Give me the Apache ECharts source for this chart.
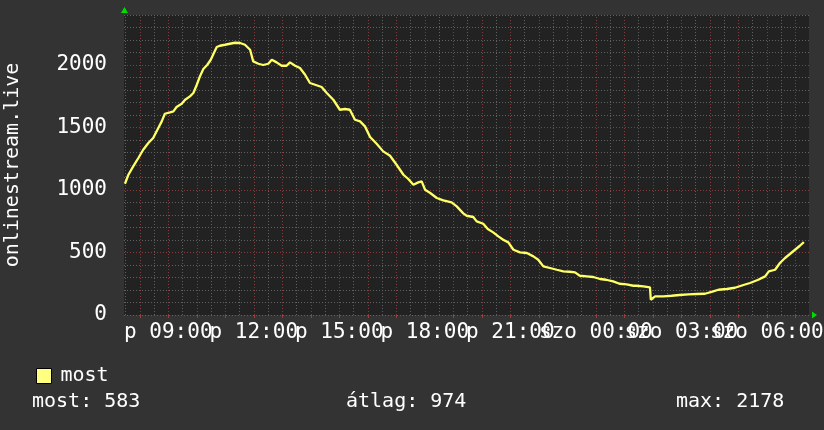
<!DOCTYPE html>
<html><head><meta charset="utf-8">
<script src="https://cdn.jsdelivr.net/npm/echarts@6/dist/echarts.min.js"></script>
<style>html,body{margin:0;padding:0;background:#333333;}#c{width:824px;height:430px;}</style>
</head><body><div id="c"></div>
<script>
// time in hours since Friday 00:00 (24 = Saturday 00:00)
const hours = [7.48,7.60,7.77,7.95,8.12,8.30,8.47,8.65,8.77,8.88,9.06,9.18,9.29,9.47,9.59,9.76,9.88,10.00,10.11,10.23,10.37,10.49,10.60,10.70,10.81,10.99,11.16,11.34,11.52,11.69,11.87,11.98,12.16,12.33,12.51,12.63,12.80,12.98,13.15,13.27,13.45,13.62,13.80,13.97,14.15,14.38,14.56,14.79,15.02,15.20,15.37,15.55,15.73,15.90,16.08,16.31,16.54,16.78,17.01,17.25,17.42,17.60,17.77,17.89,18.01,18.19,18.42,18.65,18.94,19.12,19.35,19.47,19.70,19.82,20.05,20.21,20.40,20.58,20.75,20.93,21.11,21.34,21.58,21.81,21.98,22.16,22.39,22.63,22.86,23.08,23.27,23.44,23.68,23.91,24.15,24.36,24.61,24.83,25.08,25.32,25.43,25.67,25.90,25.93,26.08,26.37,26.66,26.94,27.25,27.54,27.83,28.12,28.30,28.59,28.88,29.18,29.41,29.70,29.94,30.07,30.29,30.46,30.64,30.81,30.99,31.16,31.30];
const values = [1050,1122,1189,1256,1322,1376,1416,1496,1549,1610,1621,1629,1664,1690,1722,1749,1776,1842,1909,1968,2002,2042,2096,2144,2154,2162,2170,2178,2176,2162,2122,2029,2010,2000,2010,2042,2021,1994,1994,2021,1994,1976,1922,1856,1842,1824,1776,1722,1642,1648,1642,1562,1549,1509,1424,1370,1309,1274,1202,1122,1088,1042,1061,1069,1002,976,936,917,901,869,813,794,784,749,730,688,661,629,602,581,522,501,496,469,442,389,376,362,349,346,341,314,309,304,288,282,269,250,245,234,234,229,221,122,149,149,154,160,165,168,170,189,202,208,218,240,256,282,309,349,362,416,456,488,522,554,583];
const tickHours = [9,12,15,18,21,24,27,30];
const tickLabels = ['p 09:00','p 12:00','p 15:00','p 18:00','p 21:00','szo 00:00','szo 03:00','szo 06:00'];
const seriesName = 'most';
const axisTitle = 'onlinestream.live';
const statLabels = ['most: ', 'átlag: ', 'max: '];
const statValues = [583, 974, 2178];

const X_MIN = 7.446, X_MAX = 31.48;
const FONT = 'DejaVu Sans Mono';
const MINOR = '#606060', MAJOR = '#843c3c';

const vLines = [];
for (let h = Math.ceil(X_MIN * 2) / 2; h <= X_MAX; h += 0.5) {
  const major = Number.isInteger(h);
  vLines.push({xAxis: h, lineStyle: {color: major ? MAJOR : MINOR, type: [1, 2], width: 1}});
}
const hLines = [];
for (let v = 500; v < 2400; v += 500) {
  hLines.push({yAxis: v, lineStyle: {color: MAJOR, type: [1, 2], width: 1}});
}
const hourTicks = [];
for (let h = Math.ceil(X_MIN); h <= X_MAX; h += 1) hourTicks.push(h);

const labelFor = v => { const i = tickHours.findIndex(t => Math.abs(t - v) < 1e-6); return i >= 0 ? tickLabels[i] : ''; };
// labels split over two coincident axes so overlapping neighbours are all kept
const evenLabels = tickHours.filter((_, i) => i % 2 === 0);
const oddLabels = tickHours.filter((_, i) => i % 2 === 1);
const xLabelStyle = {color: '#ffffff', fontFamily: FONT, fontSize: 21, margin: 7,
  hideOverlap: false, showMinLabel: true, showMaxLabel: true, formatter: labelFor};

const statGraphics = statLabels.map((s, i) => ({
  type: 'text', left: [32, 346, 676][i], top: 392,
  style: {text: s + statValues[i], fill: '#ffffff', font: '20px "DejaVu Sans Mono"'}
}));

const chart = echarts.init(document.getElementById('c'), null, {renderer: 'canvas'});
chart.setOption({
  backgroundColor: '#333333',
  animation: false,
  textStyle: {fontFamily: FONT},
  grid: {left: 124, top: 15, width: 685, height: 300, show: true, backgroundColor: '#222222', borderWidth: 0,
    outerBoundsMode: 'none', containLabel: false},
  legend: {
    left: 31, top: 361, itemWidth: 15, itemHeight: 15, icon: 'rect',
    data: [{name: seriesName, itemStyle: {color: '#ffff80', borderColor: '#000', borderWidth: 1}}],
    textStyle: {color: '#ffffff', fontFamily: FONT, fontSize: 20, padding: [0, 0, 0, 4]}
  },
  xAxis: [
    {
      type: 'value', min: X_MIN, max: X_MAX, position: 'bottom', offset: 0,
      axisLine: {show: false}, splitLine: {show: false},
      axisTick: {show: true, customValues: hourTicks, length: 3, lineStyle: {color: '#a03c3c'}},
      axisLabel: Object.assign({customValues: evenLabels}, xLabelStyle)
    },
    {
      type: 'value', min: X_MIN, max: X_MAX, position: 'bottom', offset: 0,
      axisLine: {show: false}, splitLine: {show: false}, axisTick: {show: false},
      axisLabel: Object.assign({customValues: oddLabels}, xLabelStyle)
    }
  ],
  yAxis: {
    type: 'value', min: 0, max: 2400, interval: 100,
    name: axisTitle, nameLocation: 'middle', nameRotate: 90, nameGap: 101,
    nameTextStyle: {color: '#ffffff', fontFamily: FONT, fontSize: 20},
    axisLine: {show: false}, axisTick: {show: false},
    axisLabel: {color: '#ffffff', fontFamily: FONT, fontSize: 21, margin: 17, showMaxLabel: false,
      formatter: v => (v % 500 === 0 ? String(v) : '')},
    splitLine: {show: true, lineStyle: {color: MINOR, type: [1, 2], width: 1}}
  },
  series: [
    {
      type: 'line', name: '_grid', data: [], z: 1, silent: true,
      markLine: {silent: true, symbol: ['none', 'none'], label: {show: false}, animation: false,
        data: vLines.concat(hLines)}
    },
    {
      type: 'line', name: seriesName, z: 5,
      data: hours.map((h, i) => [h, values[i]]),
      showSymbol: false, symbol: 'none',
      lineStyle: {color: '#ffff66', width: 2.3},
      itemStyle: {color: '#ffff80'}
    }
  ],
  graphic: statGraphics
});

// green axis arrows, positioned from the axes' own scales
const tl = chart.convertToPixel({gridIndex: 0}, [X_MIN, 2400]);
const br = chart.convertToPixel({gridIndex: 0}, [X_MAX, 0]);
chart.setOption({graphic: statGraphics.concat([
  {type: 'polygon', shape: {points: [[tl[0] - 3, tl[1] - 2], [tl[0] + 4, tl[1] - 2], [tl[0] + 0.5, tl[1] - 8]]}, style: {fill: '#00dd00'}},
  {type: 'polygon', shape: {points: [[br[0] + 3, br[1] - 3.5], [br[0] + 3, br[1] + 3.5], [br[0] + 8, br[1]]]}, style: {fill: '#00dd00'}}
])});
</script></body></html>
